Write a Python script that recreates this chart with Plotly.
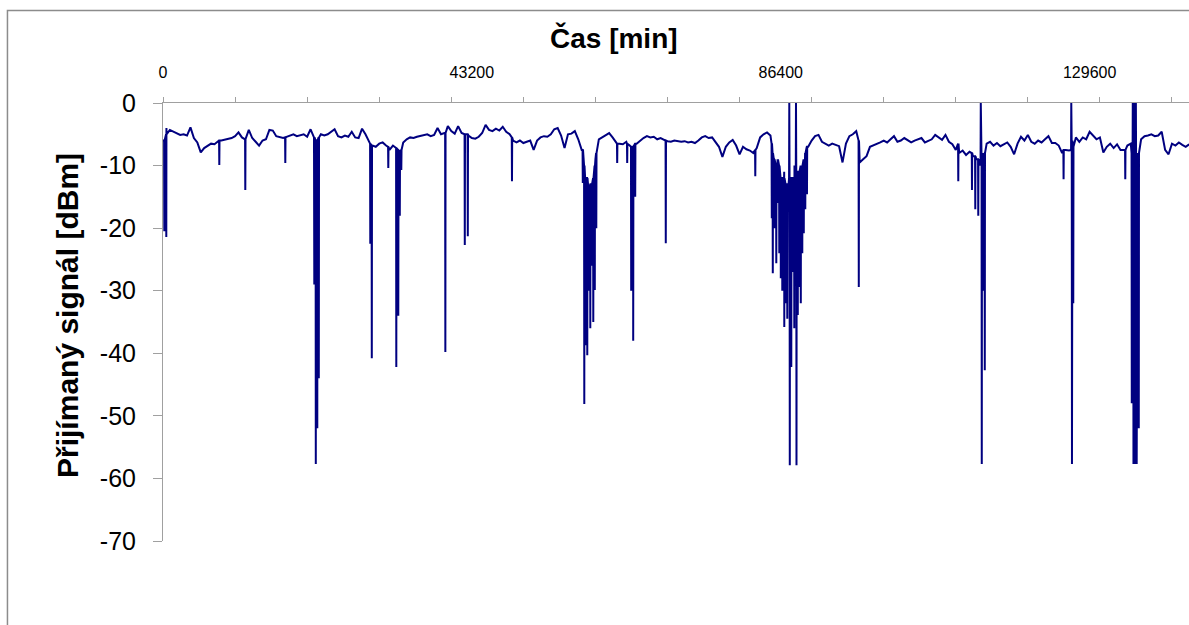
import plotly.graph_objects as go

# ---------------- data ----------------
SAMPLE_STEP_MIN = 480  # baseline readings every 8 hours

baseline_dbm = [
    -6.0, -4.0, -4.3, -4.6, -4.9, -5.1, -5.0, -5.2, -3.9, -5.6,
    -6.3, -7.9, -7.2, -6.8, -6.5, -6.6, -6.2, -6.0, -5.9, -5.7,
    -5.6, -5.3, -4.7, -5.5, -5.8, -4.3, -5.6, -6.2, -6.8, -6.0,
    -5.8, -4.3, -4.4, -5.3, -5.5, -5.6, -5.4, -5.2, -5.0, -5.3,
    -5.2, -5.0, -5.4, -4.2, -5.5, -5.8, -5.0, -5.2, -5.0, -4.6,
    -4.2, -5.3, -5.5, -5.2, -5.4, -4.6, -5.5, -5.6, -4.1, -5.0,
    -6.0, -6.8, -7.0, -6.5, -6.3, -6.8, -7.5, -6.8, -7.2, -8.0,
    -6.3, -5.8, -5.5, -5.6, -5.4, -5.3, -5.2, -5.0, -5.3, -5.1,
    -4.0, -5.0, -4.8, -3.7, -4.5, -4.9, -3.7, -4.8, -5.0, -5.2,
    -5.6, -5.7, -5.4, -4.8, -3.5, -4.3, -4.5, -4.1, -4.4, -3.8,
    -4.6, -5.0, -6.0, -6.3, -6.0, -6.4, -6.2, -6.0, -7.5, -6.0,
    -5.5, -5.3, -5.4, -5.0, -4.2, -4.0, -5.2, -7.2, -5.0, -4.9,
    -4.5, -5.8, -7.5, -12.0, -14.0, -13.0, -9.0, -5.8, -5.5, -5.2,
    -4.8, -5.5, -6.3, -6.5, -6.6, -6.2, -6.8, -7.0, -6.5, -6.0,
    -5.6, -5.3, -5.5, -5.4, -5.8, -5.6, -5.9, -6.1, -6.2, -6.0,
    -6.1, -6.2, -6.1, -6.3, -6.2, -6.4, -6.0, -5.5, -5.3, -5.6,
    -5.5, -6.2, -7.0, -8.6, -7.0, -6.3, -5.9, -6.8, -8.2, -7.0,
    -7.4, -7.6, -8.0, -7.2, -5.5, -5.0, -4.7, -5.2, -9.0, -12.0,
    -14.0, -11.0, -15.0, -12.0, -10.0, -13.0, -11.0, -12.0, -7.0, -6.0,
    -5.3, -5.1, -6.2, -6.5, -6.8, -6.5, -6.7, -6.9, -9.5, -6.5,
    -5.3, -5.0, -4.5, -9.5, -9.0, -8.5, -7.0, -6.8, -6.5, -6.3,
    -6.0, -6.3, -5.8, -5.3, -6.2, -6.0, -5.6, -5.9, -6.3, -6.0,
    -5.8, -5.6, -6.3, -6.1, -5.8, -5.1, -5.5, -5.9, -5.1, -6.2,
    -6.6, -7.5, -8.0, -7.6, -8.3, -7.8, -8.5, -9.0, -10.0, -8.0,
    -6.5, -6.2, -6.8, -6.4, -6.9, -6.6, -6.3, -7.0, -8.2, -6.5,
    -5.4, -6.0, -5.1, -6.2, -6.5, -6.0, -6.3, -5.8, -5.3, -6.4,
    -6.4, -6.8, -8.0, -7.5, -7.6, -6.0, -5.5, -6.2, -5.5, -5.8,
    -4.6, -5.2, -5.8, -5.5, -7.9, -7.0, -6.5, -7.2, -6.6, -7.5,
    -7.5, -6.8, -6.5, -9.0, -8.0, -5.8, -5.3, -5.2, -5.0, -5.3,
    -5.2, -4.6, -7.5, -8.2, -6.5, -6.8, -6.3, -6.7, -7.0, -6.6,
]

# short signal drops / jumps: time [min], extreme value [dBm], level around it [dBm]
spike_t_min = [
    182, 462, 7874, 11510, 17105,
    21161, 21371, 21581, 21791,
    28993, 29203, 31510,
    32630, 32910, 33120, 33330,
    39490, 42210, 42630, 48810,
    58713, 58923, 59133, 59342, 59552, 59762, 59972, 60182, 60392, 60602,
    63525, 64924, 65484, 65764, 66044,
    70320, 82838,
    85147, 85287, 85497, 85777, 85986, 86196, 86406, 86616, 86895, 87105,
    87315, 87595, 87665, 87875, 88085, 88294, 88532, 88602, 88784, 88994,
    89204, 89413, 89623, 89833, 90070,
    97315, 111231,
    113147, 113608, 114027, 114377, 114517, 114727, 114937,
    125958, 127035, 127132, 127314,
    134587, 135496, 135636, 135734, 135846, 135958, 136070, 136182, 136335, 136475,
]
spike_tip_dbm = [
    -20.5, -21.4, -9.9, -13.9, -9.6,
    -29.0, -57.7, -52.0, -44.0,
    -22.5, -40.8, -10.4,
    -42.2, -34.0, -18.0, -10.7,
    -39.8, -22.7, -21.3, -12.5,
    -12.8, -48.1, -38.7, -40.3, -30.0, -36.0, -26.0, -35.0, -29.9, -20.0,
    -9.6, -9.6, -30.0, -38.0, -15.0,
    -22.4, -11.7,
    -18.4, -27.2, -20.0, -25.6, -16.0, -24.0, -28.0, -30.0, -35.8, -32.0,
    -34.5, 0.0, -57.9, -42.2, -27.0, -36.0, 0.0, -57.9, -33.9, -29.4,
    -32.0, -24.0, -20.8, -17.0, -14.6,
    -29.4, -12.5,
    -13.9, -17.0, -18.0, 0.0, -57.7, -30.0, -42.7,
    -12.2, 0.0, -57.7, -32.0,
    -12.2, -48.0, 0.0, -57.7, 0.0, -57.7, 0.0, -57.7, -45.0, -52.0,
]
spike_level_dbm = [
    -6.0, -5.0, -6.0, -5.8, -5.5,
    -5.5, -6.0, -6.0, -5.5,
    -6.5, -6.8, -7.0,
    -7.2, -7.5, -7.8, -7.5,
    -4.8, -5.0, -5.0, -5.5,
    -7.5, -10.0, -12.0, -12.0, -14.0, -13.0, -13.0, -12.0, -10.0, -8.0,
    -6.5, -6.5, -7.0, -7.0, -6.5,
    -6.0, -7.5,
    -6.5, -8.0, -9.0, -10.0, -9.0, -10.0, -12.0, -12.0, -12.0, -13.0,
    -13.0, -12.0, -12.0, -12.0, -12.0, -12.0, -11.0, -11.0, -11.0, -11.0,
    -10.0, -10.0, -9.0, -8.0, -7.0,
    -6.0, -6.5,
    -8.0, -8.5, -9.0, -9.0, -9.0, -8.5, -8.0,
    -7.5, -7.5, -7.5, -7.0,
    -7.5, -8.0, -10.0, -10.0, -10.0, -10.0, -10.0, -10.0, -9.0, -8.0,
]

x_tick_vals = [0, 43200, 86400, 129600]
x_tick_text = ["0", "43200", "86400", "129600"]
y_tick_vals = [0, -10, -20, -30, -40, -50, -60, -70]
y_tick_text = ["0", "-10", "-20", "-30", "-40", "-50", "-60", "-70"]
WEEK_MIN = 10080
X_MAX = 143500

# ---------------- build series ----------------
pts = [(i * SAMPLE_STEP_MIN, v) for i, v in enumerate(baseline_dbm)]
for t, tip, lvl in zip(spike_t_min, spike_tip_dbm, spike_level_dbm):
    pts += [(t - 30, lvl), (t, tip), (t + 30, lvl)]
pts.sort(key=lambda p: p[0])
xs = [p[0] for p in pts]
ys = [p[1] for p in pts]

FONT = "Liberation Sans, Arial, sans-serif"
AXIS_GRAY = "#a0a0a0"

fig = go.Figure()
fig.add_trace(go.Scatter(x=xs, y=ys, mode="lines",
                         line=dict(color="#000080", width=2),
                         showlegend=False, hoverinfo="skip"))

fig.update_layout(
    width=1189, height=625,
    margin=dict(l=163, r=0, t=103, b=84),
    paper_bgcolor="white", plot_bgcolor="white",
    font=dict(family=FONT, color="black"),
    xaxis=dict(
        side="top", range=[0, X_MAX], automargin=False,
        tickmode="array", tickvals=x_tick_vals, ticktext=x_tick_text,
        ticks="", tickfont=dict(size=16, family=FONT, color="black"),
        ticklabelstandoff=18,
        minor=dict(ticks="outside", tick0=0, dtick=WEEK_MIN, ticklen=5,
                   tickwidth=1, tickcolor=AXIS_GRAY, showgrid=False),
        showline=True, linecolor=AXIS_GRAY, linewidth=1,
        showgrid=False, zeroline=False,
    ),
    yaxis=dict(
        range=[-70, 0], automargin=False,
        tickmode="array", tickvals=y_tick_vals, ticktext=y_tick_text,
        ticks="outside", ticklen=9, tickwidth=1, tickcolor=AXIS_GRAY,
        tickfont=dict(size=25, family=FONT, color="black"),
        ticklabelstandoff=12,
        showline=True, linecolor=AXIS_GRAY, linewidth=1,
        showgrid=False, zeroline=False,
    ),
)

# outer chart frame (cut off at right and bottom as in the reference)
fig.add_shape(type="rect", xref="paper", yref="paper",
              x0=-0.1516, x1=1.2, y0=-0.4, y1=1.211,
              line=dict(color="#8c8c8c", width=1.5), fillcolor="rgba(0,0,0,0)",
              layer="below")
# tick mark at x = 0 above the axis line
fig.add_shape(type="line", xref="x", yref="paper", x0=0, x1=0,
              y0=1, y1=1 + 5 / 438, line=dict(color=AXIS_GRAY, width=1))

fig.add_annotation(text="<b>Čas [min]</b>", xref="paper", yref="paper",
                   x=0.4396, y=1.148, xanchor="center", yanchor="middle",
                   showarrow=False, font=dict(size=28, family=FONT, color="black"))
fig.add_annotation(text="<b>Přijímaný signál [dBm]</b>", xref="paper", yref="paper",
                   x=-0.0926, y=0.516, xanchor="center", yanchor="middle",
                   textangle=-90, showarrow=False,
                   font=dict(size=30, family=FONT, color="black"))

fig.write_html(
    "out.html",
    config={"displayModeBar": False},
    post_script="document.body.style.margin='0';document.body.style.overflow='hidden';",
)
